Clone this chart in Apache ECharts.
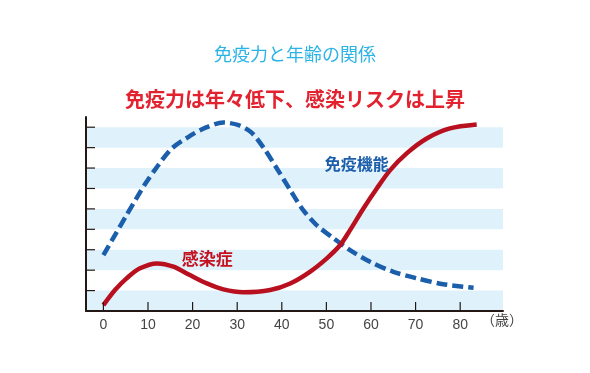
<!DOCTYPE html>
<html><head><meta charset="utf-8">
<script src="https://cdn.jsdelivr.net/npm/echarts@6/dist/echarts.min.js"></script>
<style>html,body{margin:0;padding:0;background:#fff}#c{width:590px;height:373px}</style>
</head><body><div id="c"></div>
<script>
const titleText = '免疫力と年齢の関係';
const subtitleText = '免疫力は年々低下、感染リスクは上昇';
const xTickValues = [0, 10, 20, 30, 40, 50, 60, 70, 80];
const yTickValues = [1, 2, 3, 4, 5, 6, 7, 8, 9];
const bandRanges = [[0, 1], [2, 3], [4, 5], [6, 7], [8, 9]];
const immuneAges = [0, 2.6, 5.2, 7.5, 9.35, 12.0, 15.3, 19.1, 22.8, 26.9, 30.3, 33.1, 35.9, 38.9, 41.9, 44.8, 47.8, 51.6, 55.3, 59.8, 65.0, 70.3, 76.2, 83.0];
const immuneValues = [2.74, 3.72, 4.70, 5.55, 6.22, 7.05, 7.95, 8.53, 8.97, 9.23, 9.10, 8.76, 8.0, 6.98, 5.92, 4.94, 4.21, 3.56, 2.98, 2.41, 1.92, 1.60, 1.31, 1.14];
const infectAges = [0, 2.6, 5.2, 8.2, 12.0, 15.7, 19.4, 23.2, 26.9, 31.4, 37.4, 41.9, 46.3, 50.1, 53.1, 55.3, 58.3, 61.3, 64.3, 68.0, 72.5, 77.7, 83.7];
const infectValues = [0.29, 1.03, 1.60, 2.09, 2.33, 2.17, 1.76, 1.35, 1.06, 0.92, 1.03, 1.35, 1.92, 2.58, 3.23, 3.96, 5.02, 6.00, 6.90, 7.72, 8.45, 8.94, 9.13];
const unitLabel = '（歳）';
const immuneLabel = '免疫機能';
const infectLabel = '感染症';

const font = '"Noto Sans CJK JP", "Noto Sans", sans-serif';
const axisColor = '#231815';
const chart = echarts.init(document.getElementById('c'), null, {renderer: 'canvas'});
chart.setOption({
  animation: false,
  title: [
    {text: titleText, left: 'center', top: 40, textStyle: {color: '#2bb3e6', fontSize: 18, fontWeight: 'normal', fontFamily: font}},
    {text: subtitleText, left: 'center', top: 84, textStyle: {color: '#e3222f', fontSize: 20, fontWeight: 'bold', fontFamily: font}}
  ],
  grid: {left: 86, right: 87, top: 117, bottom: 62},
  xAxis: {
    type: 'value', min: -3.9, max: 89.6, z: 10,
    axisLine: {onZero: false, lineStyle: {color: axisColor, width: 2}},
    axisTick: {show: false},
    axisLabel: {customValues: xTickValues, color: '#444', fontSize: 14, margin: 7, fontFamily: 'Liberation Sans, Arial, sans-serif'},
    splitLine: {show: false}
  },
  yAxis: {
    type: 'value', min: 0, max: 9.5, z: 10,
    axisLine: {show: true, onZero: false, lineStyle: {color: axisColor, width: 2}},
    axisTick: {show: false},
    axisLabel: {show: false},
    splitLine: {show: false}
  },
  graphic: [
    {type: 'text', left: 481, top: 313, style: {text: unitLabel, fill: '#444', font: '14px ' + font}}
  ],
  series: [
    {
      type: 'line', data: [], z: 1, silent: true,
      markArea: {silent: true, itemStyle: {color: '#dff1fb'}, data: bandRanges.map(r => [{yAxis: r[0]}, {yAxis: r[1]}])}
    },
    {
      type: 'custom', z: 6, silent: true, clip: false,
      data: xTickValues.map(v => [v, 0, 'x']).concat(yTickValues.map(v => [-3.9, v, 'y'])),
      encode: {x: 0, y: 1},
      renderItem: function (params, api) {
        const p = api.coord([api.value(0), api.value(1)]);
        const isX = api.value(2) === 'x';
        const shape = isX
          ? {x1: p[0], y1: p[1] - 1, x2: p[0], y2: p[1] - 9}
          : {x1: p[0] + 1, y1: p[1], x2: p[0] + 9, y2: p[1]};
        return {type: 'line', shape: shape, style: {stroke: axisColor, lineWidth: 1.2}};
      }
    },
    {
      type: 'line', data: immuneAges.map((a, i) => [a, immuneValues[i]]), smooth: 0.3, symbol: 'none',
      lineStyle: {color: '#1b5eab', width: 4.5, type: [11, 5]}, z: 3,
      markPoint: {symbol: 'rect', symbolSize: 1, itemStyle: {color: 'transparent'},
        label: {show: true, formatter: immuneLabel, color: '#1b5eab', fontSize: 16, fontWeight: 'bold', fontFamily: font, position: 'inside'},
        data: [{coord: [56.8, 7.2]}]}
    },
    {
      type: 'line', data: infectAges.map((a, i) => [a, infectValues[i]]), smooth: 0.3, symbol: 'none',
      lineStyle: {color: '#b8101f', width: 4.5}, z: 4,
      markPoint: {symbol: 'rect', symbolSize: 1, itemStyle: {color: 'transparent'},
        label: {show: true, formatter: infectLabel, color: '#c5101f', fontSize: 17, fontWeight: 'bold', fontFamily: font, position: 'inside'},
        data: [{coord: [23.3, 2.55]}]}
    }
  ]
});
</script></body></html>
